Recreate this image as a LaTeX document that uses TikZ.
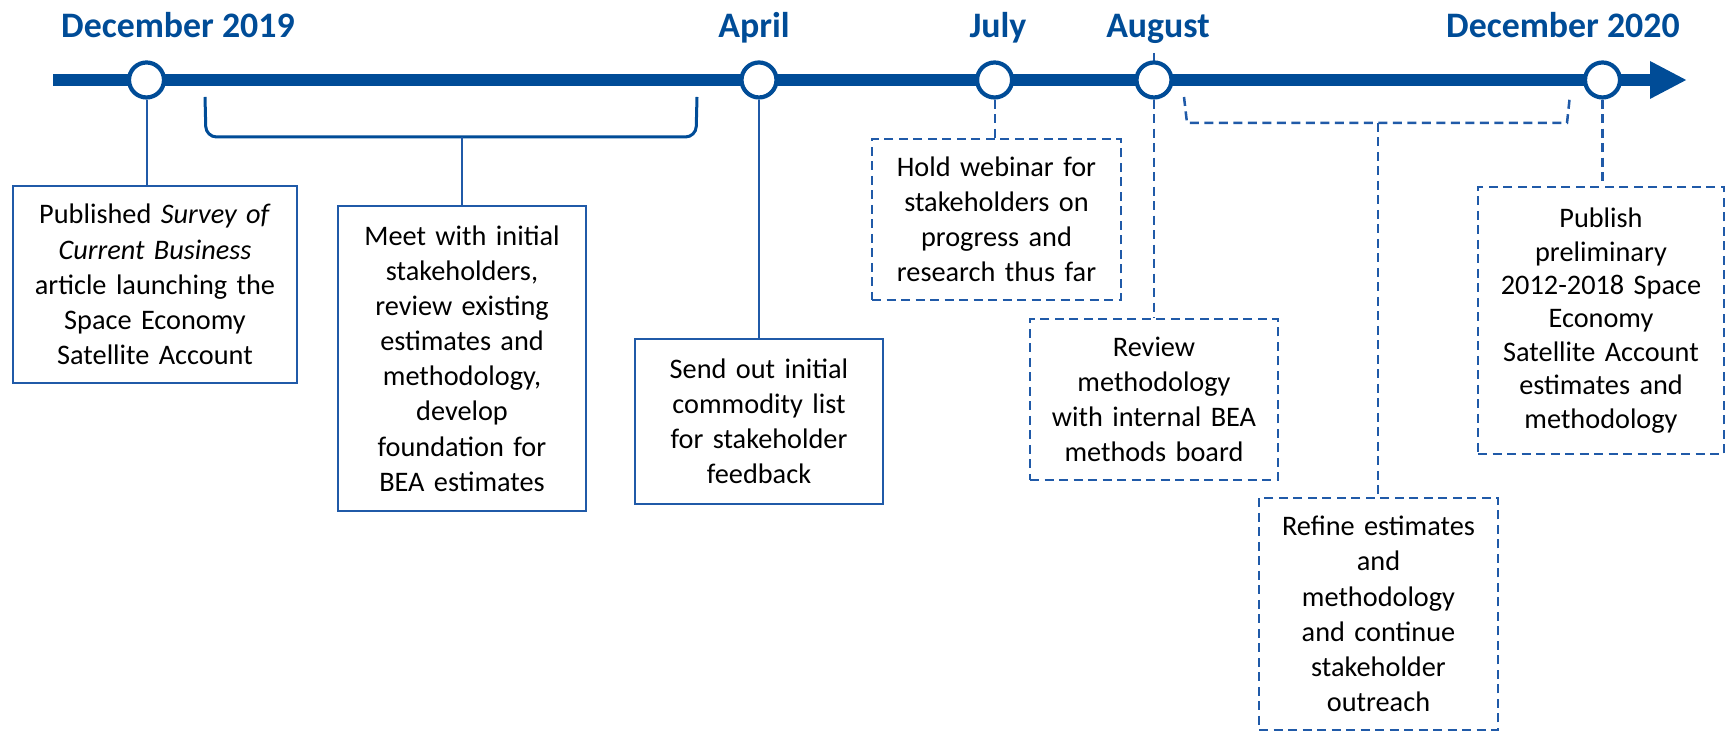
\documentclass[tikz,border=0pt]{standalone}
\usepackage{fontspec}
\setmainfont{Carlito}
\usetikzlibrary{arrows.meta}
\definecolor{beablue}{RGB}{0,76,151}
\definecolor{boxblue}{RGB}{32,90,168}
\begin{document}
\begin{tikzpicture}[x=0.1mm,y=-0.1mm,
  month/.style={font=\fontsize{10.2}{12}\selectfont\bfseries, text=beablue, anchor=base, inner sep=0pt},
  milestone/.style={circle, draw=beablue, fill=white, line width=0.42mm, minimum size=3.5mm, inner sep=0pt},
  event/.style={draw=boxblue, line width=0.2mm, align=center, inner sep=0pt,
    font=\fontsize{8.05}{10}\selectfont},
  planned/.style={event, dash pattern=on 0.9mm off 0.55mm},
  link/.style={draw=boxblue, line width=0.2mm},
  dashlink/.style={draw=boxblue, line width=0.22mm, dash pattern=on 0.9mm off 0.55mm},
  brace/.style={draw=beablue, line width=0.3mm, rounded corners=3},
  dashbrace/.style={draw=boxblue, line width=0.25mm, dash pattern=on 0.9mm off 0.55mm},
]
\useasboundingbox (0,0) rectangle (1727,731);

% month headings
\node[month] (hdec19) at (178,38) {December 2019};
\node[month] (hapr)   at (754,38) {April};
\node[month] (hjul)   at (998,38) {July};
\node[month] (haug)   at (1158,38) {August};
\node[month] (hdec20) at (1563,38) {December 2020};

% the time axis
\coordinate (tstart) at (53,80);
\coordinate (tend) at (1687,80);
\draw[beablue, line width=1.2mm, -{Triangle[length=3.7mm, width=3.5mm]}] (tstart) -- (tend);

% small tick above the August milestone
\coordinate (augtick) at (1154,53);
\draw[dashlink] (augtick) -- (1154,66);

% milestones
\node[milestone] (dec19) at (146.5,80) {};
\node[milestone] (apr)   at (759,80) {};
\node[milestone] (jul)   at (994.6,80) {};
\node[milestone] (aug)   at (1154,80) {};
\node[milestone] (dec20) at (1602.5,80) {};

% event boxes
\node[event, minimum width=28.4mm, minimum height=19.7mm, text width=27mm] (pub) at (155,284.5)
  {Published \textit{Survey of}\\\textit{Current Business}\\article launching the\\Space Economy\\Satellite Account};
\node[event, minimum width=24.8mm, minimum height=30.5mm, text width=23.5mm] (meet) at (462,358.5)
  {Meet with initial\\stakeholders,\\review existing\\estimates and\\methodology,\\develop\\foundation for\\BEA estimates};
\node[event, minimum width=24.75mm, minimum height=16.5mm, text width=23.5mm] (send) at (759,421.5)
  {Send out initial\\commodity list\\for stakeholder\\feedback};
\node[planned, minimum width=24.9mm, minimum height=16.1mm, text width=23.5mm] (web) at (996.5,219.5)
  {Hold webinar for\\stakeholders on\\progress and\\research thus far};
\node[planned, minimum width=24.8mm, minimum height=16.1mm, text width=23.5mm] (rev) at (1154,399.5)
  {Review\\methodology\\with internal BEA\\methods board};
\node[planned, minimum width=23.9mm, minimum height=23.2mm, text width=22.5mm] (ref) at (1378.5,614)
  {Refine estimates\\and\\methodology\\and continue\\stakeholder\\outreach};
\node[planned, minimum width=24.6mm, minimum height=26.7mm, text width=23.3mm,
  font=\fontsize{8.05}{9.5}\selectfont] (prel) at (1601,320.5)
  {Publish\\preliminary\\2012-2018 Space\\Economy\\Satellite Account\\estimates and\\methodology};

% single milestones to their boxes
\draw[link] (dec19) -- (dec19 |- pub.north);
\draw[link] (apr) -- (apr |- send.north);
\draw[dashlink] (jul) -- (jul |- web.north);
\draw[dashlink] (aug) -- (aug |- rev.north);
\draw[dashlink] (dec20) -- (dec20 |- prel.north);

% span from December 2019 to April
\coordinate (b1mid) at (462,137);
\draw[brace] (205,97) -- (206,137) -- (696,137) -- (697,97);
\draw[link] (b1mid) -- (b1mid |- meet.north);

% span from August to December 2020
\coordinate (b2mid) at (1378,123);
\draw[dashbrace] (1184,97) -- (1187,123) -- (1567,123) -- (1570,95);
\draw[dashlink] (b2mid) -- (b2mid |- ref.north);
\end{tikzpicture}
\end{document}
